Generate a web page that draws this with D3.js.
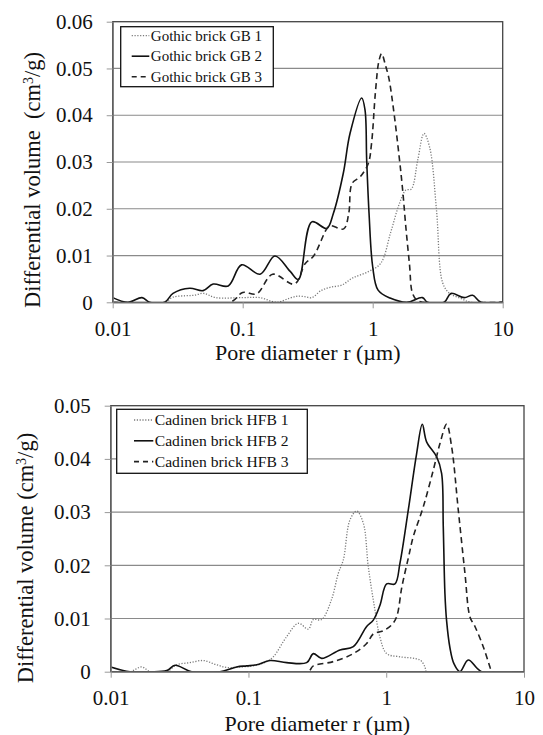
<!DOCTYPE html>
<html>
<head>
<meta charset="utf-8">
<script src="https://cdn.jsdelivr.net/npm/d3@7"></script>
<style>
  body { margin: 0; background: #fff; }
  svg, svg text { font-family: "Liberation Serif", "Times New Roman", Times, "DejaVu Serif", serif; }
</style>
</head>
<body>
<div id="chart"></div>
<script>
// ---- data: [pore diameter (µm), differential volume (cm3/g)] ----

const gb1 = [
  [0.01, 0], [0.025, 0], [0.029, 0.0011], [0.036, 0.0014], [0.042, 0.0015], [0.05, 0.0019],
  [0.062, 0.0010], [0.10, 0.0010], [0.136, 0.0010], [0.183, 0], [0.23, 0.0009], [0.265, 0.0013],
  [0.30, 0.0012], [0.34, 0.0010], [0.40, 0.0025], [0.47, 0.0032], [0.58, 0.0037], [0.70, 0.0052],
  [0.90, 0.0064], [1.15, 0.0083], [1.37, 0.0148], [1.60, 0.021], [1.80, 0.0240], [1.98, 0.0242],
  [2.22, 0.0304], [2.48, 0.0361], [2.75, 0.0330], [3.10, 0.0195], [3.45, 0.0042], [3.90, 0.0019],
  [4.70, 0.0009], [5.70, 0], [10, 0]
];
const gb2 = [
  [0.01, 0.0010], [0.0131, 0], [0.0168, 0.0010], [0.0192, 0], [0.0251, 0], [0.0291, 0.0019],
  [0.0391, 0.0030], [0.0496, 0.0025], [0.0593, 0.0039], [0.0774, 0.0035], [0.098, 0.0080],
  [0.136, 0.0060], [0.177, 0.0099], [0.232, 0.0066], [0.268, 0.0049], [0.340, 0.0172],
  [0.443, 0.0158], [0.498, 0.0190], [0.594, 0.0276], [0.669, 0.0361], [0.823, 0.0437],
  [0.873, 0.0411], [0.899, 0.0304], [0.937, 0.0191], [1.0, 0.0076], [1.10, 0.0026],
  [1.36, 0.0009], [1.83, 0], [2.41, 0.0010], [2.64, 0], [3.55, 0], [3.99, 0.0019],
  [5.06, 0.0010], [5.87, 0.0015], [6.81, 0], [10, 0]
];
const gb3 = [
  [0.01, 0], [0.08, 0], [0.10, 0.0021], [0.128, 0.0018], [0.17, 0.0060], [0.25, 0.0039],
  [0.303, 0.0083], [0.351, 0.0099], [0.445, 0.0158], [0.472, 0.0164], [0.598, 0.0157],
  [0.654, 0.0190], [0.694, 0.0254], [0.805, 0.0269], [0.925, 0.0297], [0.98, 0.034],
  [1.05, 0.045], [1.115, 0.0515], [1.172, 0.0532], [1.25, 0.0508], [1.33, 0.048],
  [1.45, 0.041], [1.60, 0.031], [1.70, 0.024], [1.80, 0.016], [1.92, 0.008], [2.02, 0.002],
  [2.20, 0.0004], [2.45, 0], [10, 0]
];

const hfb1 = [
  [0.01, 0], [0.0138, 0], [0.0168, 0.0009], [0.0193, 0], [0.0255, 0], [0.0301, 0.0013],
  [0.0376, 0.0017], [0.047, 0.0021], [0.0572, 0.0014], [0.0695, 0.0008], [0.0868, 0.0009],
  [0.1085, 0.0011], [0.1356, 0.0019], [0.1515, 0.0028], [0.1894, 0.0066], [0.23, 0.0091],
  [0.272, 0.0080], [0.2957, 0.0098], [0.3398, 0.0098], [0.40, 0.0135], [0.449, 0.0185],
  [0.488, 0.0210], [0.545, 0.0285], [0.61, 0.0302], [0.682, 0.0279], [0.741, 0.0197],
  [0.828, 0.0116], [0.90, 0.0065], [1.007, 0.0034], [1.258, 0.0028], [1.757, 0.0022],
  [1.91, 0.0009], [1.964, 0], [10, 0]
];
const hfb2 = [
  [0.01, 0.0009], [0.0138, 0], [0.0183, 0], [0.0255, 0.0002], [0.0293, 0.0012], [0.0387, 0],
  [0.0622, 0], [0.0821, 0.0009], [0.097, 0.0011], [0.1147, 0.0013], [0.1433, 0.0021],
  [0.1894, 0.0017], [0.2645, 0.0017], [0.2957, 0.0034], [0.3398, 0.0025], [0.4615, 0.0041],
  [0.5768, 0.0047], [0.7208, 0.0085], [0.8055, 0.0097], [0.9006, 0.0125], [1.007, 0.0165],
  [1.157, 0.0165], [1.258, 0.0204], [1.446, 0.0304], [1.662, 0.0410], [1.827, 0.0465],
  [1.963, 0.0432], [2.322, 0.0404], [2.523, 0.0373], [2.594, 0.0273], [2.667, 0.0147],
  [2.74, 0.0097], [2.90, 0.0045], [3.10, 0.0015], [3.43, 0], [3.94, 0.0022], [4.92, 0], [10, 0]
];
const hfb3 = [
  [0.01, 0], [0.27, 0], [0.2957, 0.0011], [0.4129, 0.0019], [0.5768, 0.0034], [0.7208, 0.0053],
  [0.8055, 0.0071], [0.952, 0.0077], [1.094, 0.0088], [1.189, 0.0103], [1.30, 0.0160],
  [1.45, 0.0215], [1.572, 0.0254], [1.858, 0.0310], [2.196, 0.0379], [2.455, 0.0429],
  [2.744, 0.0465], [2.983, 0.0423], [3.334, 0.0304], [3.727, 0.0185], [4.053, 0.0103],
  [4.406, 0.0085], [5.06, 0.0047], [5.66, 0.0009], [5.82, 0], [10, 0]
];

const gbNames  = ["Gothic brick GB 1", "Gothic brick GB 2", "Gothic brick GB 3"];
const hfbNames = ["Cadinen brick HFB 1", "Cadinen brick HFB 2", "Cadinen brick HFB 3"];

const xTicks = [0.01, 0.1, 1, 10];
const xTickLabels = ["0.01", "0.1", "1", "10"];
const yTicksGB = [0, 0.01, 0.02, 0.03, 0.04, 0.05, 0.06];
const yLabelsGB = ["0", "0.01", "0.02", "0.03", "0.04", "0.05", "0.06"];
const yTicksHFB = [0, 0.01, 0.02, 0.03, 0.04, 0.05];
const yLabelsHFB = ["0", "0.01", "0.02", "0.03", "0.04", "0.05"];

const FONT = "'Liberation Serif', 'Times New Roman', Times, 'DejaVu Serif', serif";

// line styles: dotted grey, solid black, dashed black
const styles = [
  { stroke: "#7a7a7a", width: 1.3, dash: "1.2,1.6" },
  { stroke: "#111", width: 1.6, dash: null },
  { stroke: "#222", width: 1.6, dash: "6,4" }
];

const svg = d3.select("#chart").append("svg")
    .attr("width", 543)
    .attr("height", 735)
    .attr("font-family", FONT);

function drawPanel(cfg) {
  const g = svg.append("g");

  const x = d3.scaleLog().domain([0.01, 10]).range([cfg.left, cfg.right]);
  const y = d3.scaleLinear().domain([0, cfg.yMax]).range([cfg.bottom, cfg.top]);

  // horizontal gridlines
  g.selectAll("line.grid")
    .data(cfg.yTicks.filter(v => v > 0 && v < cfg.yMax))
    .join("line")
      .attr("class", "grid")
      .attr("x1", cfg.left).attr("x2", cfg.right)
      .attr("y1", d => y(d)).attr("y2", d => y(d))
      .attr("stroke", "#8a8a8a")
      .attr("stroke-width", 1.2);

  // clip for the curves
  svg.append("defs").append("clipPath").attr("id", cfg.id)
    .append("rect")
      .attr("x", cfg.left).attr("y", cfg.top)
      .attr("width", cfg.right - cfg.left)
      .attr("height", cfg.bottom - cfg.top);

  const line = d3.line()
      .x(d => x(d[0]))
      .y(d => y(d[1]))
      .curve(d3.curveCatmullRom.alpha(0.5));

  g.append("g").attr("clip-path", `url(#${cfg.id})`)
    .selectAll("path")
    .data(cfg.series)
    .join("path")
      .attr("d", d => line(d))
      .attr("fill", "none")
      .attr("stroke", (d, i) => styles[i].stroke)
      .attr("stroke-width", (d, i) => styles[i].width)
      .attr("stroke-dasharray", (d, i) => styles[i].dash);

  // frame
  g.append("rect")
    .attr("x", cfg.left).attr("y", cfg.top)
    .attr("width", cfg.right - cfg.left)
    .attr("height", cfg.bottom - cfg.top)
    .attr("fill", "none")
    .attr("stroke", "#444")
    .attr("stroke-width", 1.3);

  // axes
  const yAxis = d3.axisLeft(y)
      .tickValues(cfg.yTicks)
      .tickFormat((d, i) => cfg.yLabels[i])
      .tickSizeInner(6).tickSizeOuter(0).tickPadding(14);
  const ya = g.append("g")
      .attr("transform", `translate(${cfg.left},0)`)
      .call(yAxis);

  const xAxis = d3.axisBottom(x)
      .tickValues(xTicks)
      .tickFormat((d, i) => xTickLabels[i])
      .tickSizeInner(6).tickSizeOuter(0).tickPadding(12.5);
  const xa = g.append("g")
      .attr("transform", `translate(0,${cfg.bottom})`)
      .call(xAxis);

  [ya, xa].forEach(a => {
    a.attr("font-family", FONT).attr("font-size", 21);
    a.select(".domain").attr("stroke", "#777").attr("stroke-width", 1.3);
    a.selectAll(".tick line").attr("stroke", "#999").attr("stroke-width", 1);
    a.selectAll(".tick text").attr("fill", "#111").attr("font-family", FONT).style("font-size", "21px");
  });

  // axis titles
  g.append("text")
    .attr("x", (cfg.left + cfg.right) / 2)
    .attr("y", cfg.bottom + cfg.xTitleGap)
    .attr("text-anchor", "middle")
    .attr("font-family", FONT)
    .style("font-size", "22px")
    .attr("fill", "#111")
    .text("Pore diameter r (\u00b5m)");

  const yt = g.append("text")
    .attr("transform", `translate(${cfg.yTitleX},${cfg.yTitleY}) rotate(-90)`)
    .attr("text-anchor", "middle")
    .attr("font-family", FONT)
    .style("font-size", "22.5px")
    .style("white-space", "pre")
    .attr("fill", "#111");
  yt.append("tspan").text(cfg.yTitleStart);
  yt.append("tspan").attr("baseline-shift", "super").style("font-size", "14px").text("3");
  yt.append("tspan").text("/g)");

  // legend
  const lg = g.append("g").attr("transform", `translate(${cfg.lx},${cfg.ly})`);
  lg.append("rect")
    .attr("width", cfg.lw).attr("height", cfg.lh)
    .attr("fill", "#fff")
    .attr("stroke", "#111")
    .attr("stroke-width", 1.3);

  const rows = lg.selectAll("g.row")
    .data(cfg.names)
    .join("g")
      .attr("class", "row")
      .attr("transform", (d, i) => `translate(0,${cfg.lrow0 + i * cfg.lrowGap})`);

  rows.append("line")
    .attr("x1", cfg.ls0).attr("x2", cfg.ls1)
    .attr("stroke", (d, i) => styles[i].stroke)
    .attr("stroke-width", (d, i) => styles[i].width)
    .attr("stroke-dasharray", (d, i) => styles[i].dash ? (i === 2 ? "5,4" : styles[i].dash) : null);

  rows.append("text")
    .attr("x", cfg.ls1 + 1.5)
    .attr("y", cfg.lfont * 0.33)
    .attr("font-family", FONT)
    .style("font-size", cfg.lfont + "px")
    .attr("fill", "#111")
    .text(d => d);
}

drawPanel({
  id: "clipGB",
  left: 112.7, right: 502.7, top: 21.7, bottom: 302.3,
  yMax: 0.06, yTicks: yTicksGB, yLabels: yLabelsGB,
  series: [gb1, gb2, gb3], names: gbNames,
  xTitleGap: 58, yTitleX: 40, yTitleY: 180,
  yTitleStart: "Differential volume  (cm",
  lx: 120.7, ly: 26.7, lw: 152.6, lh: 60,
  lrow0: 9, lrowGap: 20.5, ls0: 11, ls1: 28.6, lfont: 15
});

drawPanel({
  id: "clipHFB",
  left: 110.7, right: 524, top: 405.7, bottom: 671.7,
  yMax: 0.05, yTicks: yTicksHFB, yLabels: yLabelsHFB,
  series: [hfb1, hfb2, hfb3], names: hfbNames,
  xTitleGap: 59, yTitleX: 33.3, yTitleY: 558,
  yTitleStart: "Differential volume (cm",
  lx: 116.7, ly: 409.3, lw: 190.6, lh: 64,
  lrow0: 10.7, lrowGap: 20.8, ls0: 17.3, ls1: 36.6, lfont: 15.6
});
</script>
</body>
</html>
